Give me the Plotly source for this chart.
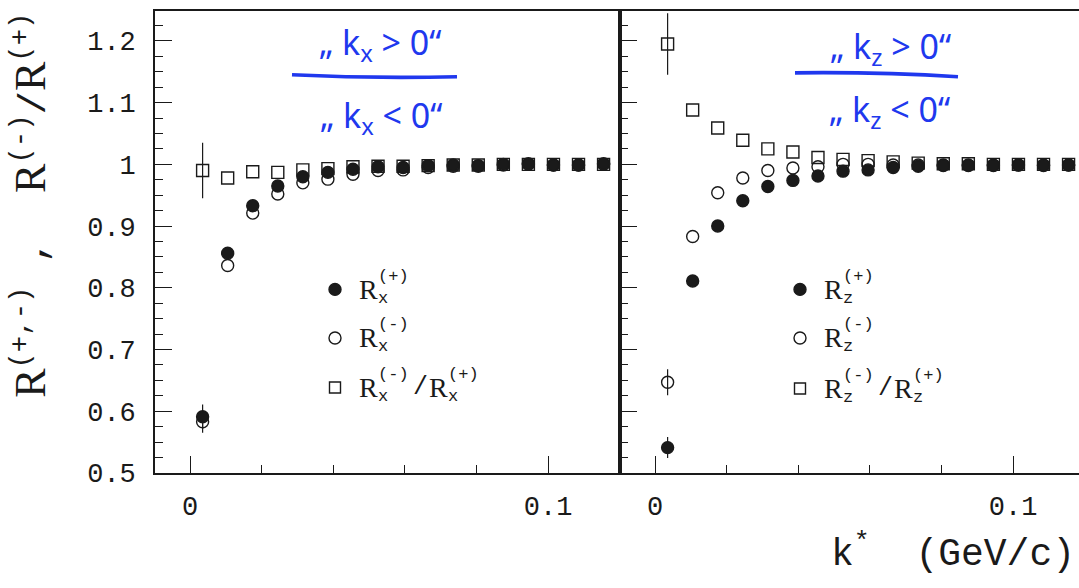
import plotly.graph_objects as go

W, H = 1079, 588

# bin centres of k* (GeV/c)
k_star = [0.0035, 0.0105, 0.0175, 0.0245, 0.0315, 0.0385, 0.0455, 0.0525, 0.0595,
          0.0665, 0.0735, 0.0805, 0.0875, 0.0945, 0.1015, 0.1085, 0.1155]

# left panel: x projection
rx_plus = [0.591, 0.856, 0.933, 0.965, 0.980, 0.987, 0.992, 0.996, 0.995,
           0.998, 0.999, 0.998, 1.000, 1.001, 0.999, 0.999, 1.001]
rx_plus_err = [0.020] + [0.0] * 16
rx_minus = [0.583, 0.836, 0.921, 0.952, 0.970, 0.976, 0.984, 0.990, 0.991,
            0.995, 0.997, 0.997, 0.999, 1.000, 0.999, 0.999, 1.000]
rx_minus_err = [0.018] + [0.0] * 16
rx_ratio = [0.990, 0.978, 0.988, 0.987, 0.991, 0.993, 0.996, 0.997, 0.997,
            0.998, 0.999, 0.999, 1.000, 1.000, 1.000, 1.000, 1.000]
rx_ratio_err = [0.045] + [0.0] * 16

# right panel: z projection
rz_plus = [0.541, 0.811, 0.900, 0.941, 0.964, 0.974, 0.981, 0.989, 0.991,
           0.995, 0.997, 0.998, 0.998, 0.998, 0.999, 0.998, 0.999]
rz_plus_err = [0.017] + [0.0] * 16
rz_minus = [0.647, 0.883, 0.954, 0.978, 0.990, 0.994, 0.996, 1.000, 1.000,
            0.999, 0.999, 0.999, 0.999, 0.999, 0.999, 0.999, 0.999]
rz_minus_err = [0.021] + [0.0] * 16
rz_ratio = [1.195, 1.088, 1.059, 1.039, 1.025, 1.020, 1.011, 1.008, 1.006,
            1.004, 1.002, 1.001, 1.001, 1.000, 1.000, 1.000, 1.000]
rz_ratio_err = [0.050] + [0.0] * 16

y_tick_vals = [0.5, 0.6, 0.7, 0.8, 0.9, 1.0, 1.1, 1.2]
y_tick_text = ["0.5", "0.6", "0.7", "0.8", "0.9", "1", "1.1", "1.2"]
x_tick_vals = [0.0, 0.1]
x_tick_text = ["0", "0.1"]

INK = "#1a1a1a"
BLUE = "#2038ee"
MONO = "Liberation Mono, Courier New, monospace"
SERIF = "Liberation Serif"
HAND = "Noto Sans, DejaVu Sans, sans-serif"


def px(x):
    return x / W


def py(y):
    return 1 - y / H


def serif_r(size):
    return '<span style="font-family:{};font-size:{}px">R</span>'.format(SERIF, size)


fig = go.Figure()


def add_series(xa, ya, vals, errs, symbol, name):
    fig.add_trace(go.Scatter(
        x=k_star, y=vals, mode="markers", name=name, showlegend=False,
        xaxis=xa, yaxis=ya, cliponaxis=False,
        marker=dict(symbol=symbol, size=12, color=INK,
                    line=dict(color=INK, width=1.4)),
        error_y=dict(type="data", array=errs, width=0, thickness=1.2, color=INK),
    ))


# draw order: squares, open circles, filled circles on top
add_series("x", "y", rx_ratio, rx_ratio_err, "square-open", "Rx(-)/Rx(+)")
add_series("x", "y", rx_minus, rx_minus_err, "circle-open", "Rx(-)")
add_series("x", "y", rx_plus, rx_plus_err, "circle", "Rx(+)")
add_series("x2", "y2", rz_ratio, rz_ratio_err, "square-open", "Rz(-)/Rz(+)")
add_series("x2", "y2", rz_minus, rz_minus_err, "circle-open", "Rz(-)")
add_series("x2", "y2", rz_plus, rz_plus_err, "circle", "Rz(+)")

# panel geometry in pixels
left_x0, split_x, top_y, bot_y = 155, 620, 11, 487
px_per_unit = 3580.0
x_lo = -0.0098
left_range = [x_lo, x_lo + (split_x - left_x0) / px_per_unit]
right_range = [x_lo, x_lo + (W - split_x) / px_per_unit]
y_range = [0.5, 1.249]

xaxis_common = dict(
    showline=True, linecolor=INK, linewidth=1.6, mirror=True,
    ticks="inside", ticklen=17, tickwidth=1.2, tickcolor=INK,
    tickvals=x_tick_vals, ticktext=x_tick_text,
    minor=dict(dtick=0.02, tick0=0, ticks="inside", ticklen=8,
               tickwidth=1.1, tickcolor=INK),
    showgrid=False, zeroline=False,
    tickfont=dict(family=MONO, size=27, color=INK),
    ticklabelstandoff=8,
)
yaxis_common = dict(
    range=y_range, showline=True, linecolor=INK, linewidth=1.6,
    ticks="inside", ticklen=17, tickwidth=1.2, tickcolor=INK,
    tickvals=y_tick_vals, ticktext=y_tick_text,
    minor=dict(dtick=0.025, tick0=0.5, ticks="inside", ticklen=8,
               tickwidth=1.1, tickcolor=INK),
    showgrid=False, zeroline=False,
    tickfont=dict(family=MONO, size=27, color=INK),
    domain=[py(bot_y), py(top_y)],
)

fig.update_layout(
    width=W, height=H,
    margin=dict(l=0, r=0, t=0, b=0),
    paper_bgcolor="white", plot_bgcolor="white",
    showlegend=False,
    xaxis=dict(xaxis_common, domain=[px(left_x0), px(split_x)],
               range=left_range, anchor="y"),
    yaxis=dict(yaxis_common, anchor="x", mirror=True, ticklabelstandoff=12),
    xaxis2=dict(xaxis_common, domain=[px(split_x), 1.0],
                range=right_range, anchor="y2"),
    yaxis2=dict(yaxis_common, anchor="x2", mirror=False, showticklabels=False),
)

annotations = []
shapes = []

# axis titles
R_BIG = serif_r(44)
annotations.append(dict(
    xref="paper", yref="paper", x=px(31), y=py(212), textangle=-90,
    text=R_BIG + "<sup>(+,-)</sup> ,  " + R_BIG + "<sup>(-)</sup>/" + R_BIG + "<sup>(+)</sup>",
    showarrow=False, font=dict(family=MONO, size=39, color=INK),
    xanchor="center", yanchor="middle",
))
annotations.append(dict(
    xref="paper", yref="paper", x=px(1077), y=py(568),
    text="k<sup>*</sup>  (GeV/c)",
    showarrow=False, font=dict(family=MONO, size=38, color=INK),
    xanchor="right", yanchor="middle",
))


def text_at(x, y, s, size, color=INK, family=MONO, anchor="left", pad=1):
    annotations.append(dict(
        xref="paper", yref="paper", x=px(x), y=py(y), text=s,
        showarrow=False, font=dict(family=family, size=size, color=color),
        xanchor=anchor, yanchor="middle", align="left", borderpad=pad,
    ))


def r_symbol(x, y, sub, sup):
    # R followed by a superscript stacked over a subscript
    text_at(x, y, "R", 28, family=SERIF, pad=0)
    text_at(x + 19, y - 2, sup + "<br>" + sub, 17, pad=0)


def legend_key(x, y, kind):
    if kind == "square":
        shapes.append(dict(type="rect", xref="paper", yref="paper",
                           xsizemode="pixel", ysizemode="pixel",
                           xanchor=px(x), yanchor=py(y),
                           x0=-5.5, x1=5.5, y0=-5.5, y1=5.5,
                           line=dict(color=INK, width=1.4), fillcolor="white"))
    else:
        filled = kind == "filled"
        shapes.append(dict(type="circle", xref="paper", yref="paper",
                           xsizemode="pixel", ysizemode="pixel",
                           xanchor=px(x), yanchor=py(y),
                           x0=-6, x1=6, y0=-6, y1=6,
                           line=dict(color=INK, width=1.4),
                           fillcolor=INK if filled else "white"))


def legend_block(mx, lx, ys, axis_letter):
    legend_key(mx, ys[0], "filled")
    r_symbol(lx, ys[0], axis_letter, "(+)")
    legend_key(mx, ys[1], "open")
    r_symbol(lx, ys[1], axis_letter, "(-)")
    legend_key(mx, ys[2], "square")
    r_symbol(lx, ys[2], axis_letter, "(-)")
    text_at(lx + 54, ys[2], "/", 25, pad=0)
    r_symbol(lx + 70, ys[2], axis_letter, "(+)")


legend_block(335, 358, [298, 348, 399], "x")
legend_block(800, 823, [298, 348, 400], "z")

# handwritten-style ratio notes
HAND_SIZE = 34
text_at(380, 45, "\u201e k<sub>x</sub> &gt; 0\u201c", HAND_SIZE, BLUE, HAND, "center")
text_at(381, 120, "\u201e k<sub>x</sub> &lt; 0\u201c", HAND_SIZE, BLUE, HAND, "center")
text_at(890, 49, "\u201e k<sub>z</sub> &gt; 0\u201c", HAND_SIZE, BLUE, HAND, "center")
text_at(889, 114, "\u201e k<sub>z</sub> &lt; 0\u201c", HAND_SIZE, BLUE, HAND, "center")


def stroke(points):
    (x0, y0), (xc, yc), (x1, y1) = points
    path = "M {:.5f},{:.5f} Q {:.5f},{:.5f} {:.5f},{:.5f}".format(
        px(x0), py(y0), px(xc), py(yc), px(x1), py(y1))
    shapes.append(dict(type="path", xref="paper", yref="paper", path=path,
                       line=dict(color=BLUE, width=3.6)))


stroke([(292, 77), (372, 81), (457, 79)])
stroke([(795, 75), (880, 74), (958, 79)])

fig.update_layout(annotations=annotations, shapes=shapes)

fig.write_html("out.html")
